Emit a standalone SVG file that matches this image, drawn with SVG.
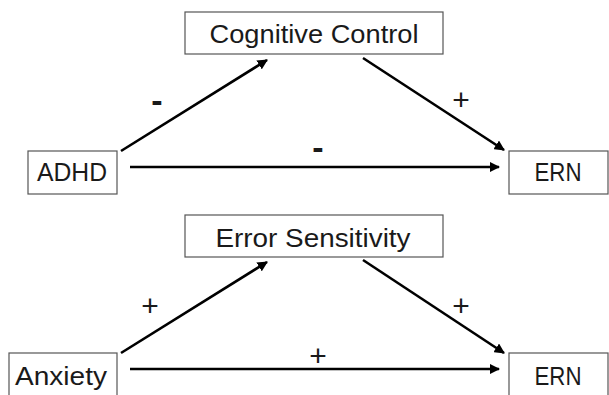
<svg xmlns="http://www.w3.org/2000/svg" width="609" height="395" viewBox="0 0 609 395">
  <style>
    .box { fill: #ffffff; stroke: #555555; stroke-width: 1.2; }
    .lbl { font-family: "Liberation Sans", Arial, sans-serif; font-size: 26px; fill: #1a1a1a; text-anchor: middle; }
    .sign { font-family: "Liberation Sans", Arial, sans-serif; font-size: 30px; fill: #1a1a1a; text-anchor: middle; }
    .minus { font-family: "Liberation Sans", Arial, sans-serif; font-size: 34px; font-weight: bold; fill: #1a1a1a; text-anchor: middle; }
    .edge { stroke: #000000; stroke-width: 2.6; fill: none; marker-end: url(#arr); }
  </style>
  <defs>
    <marker id="arr" viewBox="0 0 10 10" refX="9" refY="5" markerWidth="4" markerHeight="4" orient="auto" markerUnits="strokeWidth">
      <path d="M0,0 L10,5 L0,10 z" fill="#000000"/>
    </marker>
  </defs>
  <rect width="609" height="395" fill="#ffffff"/>

  <g id="connectors">
    <line class="edge" x1="121" y1="151" x2="267" y2="60"/>
    <line class="edge" x1="363" y1="58" x2="504" y2="150"/>
    <line class="edge" x1="130" y1="167" x2="499" y2="167"/>
    <line class="edge" x1="121" y1="353" x2="267" y2="262"/>
    <line class="edge" x1="363" y1="260" x2="504" y2="353"/>
    <line class="edge" x1="130" y1="369" x2="499" y2="369"/>
    <text class="minus" x="157" y="112">-</text>
    <text class="sign" x="461" y="110">+</text>
    <text class="minus" x="318" y="159">-</text>
    <text class="sign" x="150" y="316">+</text>
    <text class="sign" x="461" y="316">+</text>
    <text class="sign" x="318" y="366">+</text>
  </g>

  <g id="cognitive-control">
    <rect class="box" x="185" y="12" width="258" height="42"/>
    <text class="lbl" x="314" y="43" textLength="209" lengthAdjust="spacingAndGlyphs">Cognitive Control</text>
  </g>
  <g id="adhd">
    <rect class="box" x="28" y="151" width="89" height="43"/>
    <text class="lbl" x="72" y="181" textLength="70" lengthAdjust="spacingAndGlyphs">ADHD</text>
  </g>
  <g id="ern-top">
    <rect class="box" x="509" y="151" width="99" height="43"/>
    <text class="lbl" x="558" y="181" textLength="47" lengthAdjust="spacingAndGlyphs">ERN</text>
  </g>

  <g id="error-sensitivity">
    <rect class="box" x="185" y="215" width="258" height="42"/>
    <text class="lbl" x="313" y="247" textLength="195" lengthAdjust="spacingAndGlyphs">Error Sensitivity</text>
  </g>
  <g id="anxiety">
    <rect class="box" x="9" y="353" width="108" height="45"/>
    <text class="lbl" x="61" y="385" textLength="92" lengthAdjust="spacingAndGlyphs">Anxiety</text>
  </g>
  <g id="ern-bottom">
    <rect class="box" x="509" y="353" width="99" height="45"/>
    <text class="lbl" x="558" y="385" textLength="47" lengthAdjust="spacingAndGlyphs">ERN</text>
  </g>
</svg>
